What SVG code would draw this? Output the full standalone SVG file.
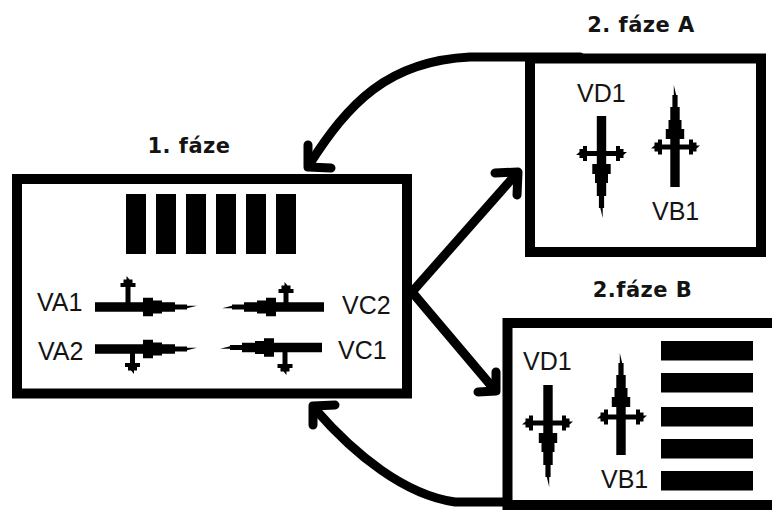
<svg xmlns="http://www.w3.org/2000/svg" width="772" height="510" viewBox="0 0 772 510">
<style>
.box{fill:none;stroke:#000;stroke-width:10}
.bar{fill:#000}
.lbl{font-family:"Liberation Sans",Arial,sans-serif;font-size:25px;fill:#141414}
.ttl{font-family:"DejaVu Sans",Verdana,sans-serif;font-weight:bold;font-size:21px;letter-spacing:0.5px;fill:#141414;text-anchor:middle}
.stem{stroke:#000;stroke-width:5;fill:none}
.conn{fill:none;stroke:#000;stroke-width:9;stroke-linecap:round;stroke-linejoin:round}
</style>
<defs>
<path id="needle" d="M0,-1.2 H-10 V-2.6 H-22 V-4.7 H-35 V-6.5 H-44 V-9.2 H-54 V-4.7 H-102 V4.7 H-54 V9.2 H-44 V6.5 H-35 V4.7 H-22 V2.6 H-10 V1.2 Z" fill="#000"/>
<path id="head" d="M0,-1.5 H-3.5 V-4.5 H-7 V-7.5 H-11 V7.5 H-7 V4.5 H-3.5 V1.5 Z" fill="#000"/>
</defs>
<rect width="772" height="510" fill="#fff"/>

<g id="connectors">
<path class="conn" d="M580,57 L470,57 C387,61 348,104 309,165"/>
<path class="conn" d="M308,145 L308,167 L331,168"/>
<path class="conn" d="M412,292 L517,173"/>
<path class="conn" d="M495,173 L518,172 L517,195"/>
<path class="conn" d="M412,292 L494,389"/>
<path class="conn" d="M478,392 L496,391 L496,372"/>
<path class="conn" d="M507,502 L455,502 C405,495 355,455 315,409"/>
<path class="conn" d="M335,405 L313,406 L313,425"/>
</g>

<g id="phase1">
<text class="ttl" x="189" y="153">1. fáze</text>
<rect class="box" x="17" y="179" width="390" height="214.5"/>
<rect class="bar" x="126" y="194" width="20" height="60"/>
<rect class="bar" x="156" y="194" width="20" height="60"/>
<rect class="bar" x="186" y="194" width="20" height="60"/>
<rect class="bar" x="216" y="194" width="20" height="60"/>
<rect class="bar" x="246" y="194" width="20" height="60"/>
<rect class="bar" x="276" y="194" width="20" height="60"/>
<g id="VA1">
<use href="#needle" transform="translate(197,307)"/>
<line class="stem" x1="128" y1="307" x2="128" y2="286"/>
<use href="#head" transform="translate(128,276) rotate(-90)"/>
<text class="lbl" x="37" y="311">VA1</text>
</g>
<g id="VA2">
<use href="#needle" transform="translate(197,349)"/>
<line class="stem" x1="132.5" y1="349" x2="132.5" y2="364"/>
<use href="#head" transform="translate(132.5,374) rotate(90)"/>
<text class="lbl" x="38" y="360">VA2</text>
</g>
<g id="VC2">
<use href="#needle" transform="translate(222,307) rotate(180)"/>
<line class="stem" x1="286" y1="307" x2="286" y2="292"/>
<use href="#head" transform="translate(286,282) rotate(-90)"/>
<text class="lbl" x="342" y="314">VC2</text>
</g>
<g id="VC1">
<use href="#needle" transform="translate(220,347.5) rotate(180)"/>
<line class="stem" x1="285" y1="347.5" x2="285" y2="365"/>
<use href="#head" transform="translate(285,375) rotate(90)"/>
<text class="lbl" x="338" y="359">VC1</text>
</g>
</g>

<g id="phase2a">
<text class="ttl" x="641" y="32">2. fáze A</text>
<rect class="box" x="530" y="58.5" width="231" height="193.5"/>
<g id="VD1a">
<use href="#needle" transform="translate(601.5,218) rotate(90)"/>
<line class="stem" x1="586" y1="153.5" x2="617" y2="153.5"/>
<use href="#head" transform="translate(576,153.5) rotate(180)"/>
<use href="#head" transform="translate(627,153.5)"/>
<text class="lbl" x="577" y="102">VD1</text>
</g>
<g id="VB1a">
<use href="#needle" transform="translate(675,85) rotate(-90)"/>
<line class="stem" x1="661" y1="147" x2="690" y2="147"/>
<use href="#head" transform="translate(651,147) rotate(180)"/>
<use href="#head" transform="translate(700,147)"/>
<text class="lbl" x="652" y="220">VB1</text>
</g>
</g>

<g id="phase2b">
<text class="ttl" x="642.5" y="297">2.fáze B</text>
<rect class="box" x="507.5" y="323" width="300" height="182"/>
<rect class="bar" x="661" y="341" width="92" height="19.5"/>
<rect class="bar" x="661" y="373" width="92" height="19.5"/>
<rect class="bar" x="661" y="407" width="92" height="19.5"/>
<rect class="bar" x="661" y="439" width="92" height="19.5"/>
<rect class="bar" x="661" y="471" width="92" height="19.5"/>
<g id="VD1b">
<use href="#needle" transform="translate(548,487) rotate(90)"/>
<line class="stem" x1="532" y1="423" x2="563" y2="423"/>
<use href="#head" transform="translate(522,423) rotate(180)"/>
<use href="#head" transform="translate(573,423)"/>
<text class="lbl" x="523" y="370">VD1</text>
</g>
<g id="VB1b">
<use href="#needle" transform="translate(621,353) rotate(-90)"/>
<line class="stem" x1="607" y1="417" x2="637" y2="417"/>
<use href="#head" transform="translate(597,417) rotate(180)"/>
<use href="#head" transform="translate(647,417)"/>
<text class="lbl" x="601" y="488">VB1</text>
</g>
</g>
</svg>
